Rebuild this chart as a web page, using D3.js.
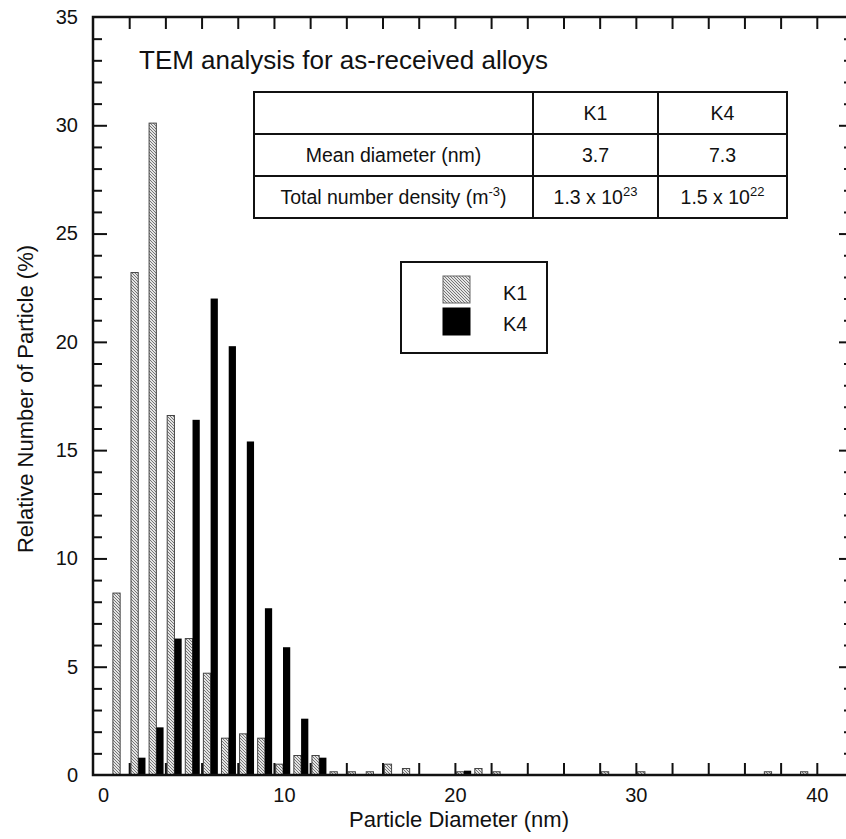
<!DOCTYPE html>
<html>
<head>
<meta charset="utf-8">
<script src="https://cdn.jsdelivr.net/npm/d3@7"></script>
<style>
  body { margin: 0; background: #fff; }
  text { font-family: "Liberation Sans", Arial, sans-serif; fill: #111; }
</style>
</head>
<body>
<svg id="chart"></svg>
<script>
// Chart size
const width = 846;
const height = 839;

// Histogram bins (particle diameter, nm)
const diameters = [1, 2, 3, 4, 5, 6, 7, 8, 9, 10, 11, 12, 13, 14, 15, 16, 17, 18, 19, 20,
    21, 22, 23, 24, 25, 26, 27, 28, 29, 30, 31, 32, 33, 34, 35, 36, 37, 38, 39];

// Relative number of particles (%) for each alloy
const k1Values = [8.4, 23.2, 30.1, 16.6, 6.3, 4.7, 1.7, 1.9, 1.7, 0.5, 0.9, 0.9, 0.15, 0.15, 0.15, 0.5, 0.3, 0, 0, 0.15,
    0.3, 0.15, 0, 0, 0, 0, 0, 0.15, 0, 0.15, 0, 0, 0, 0, 0, 0, 0.15, 0, 0.15];
const k4Values = [0, 0.8, 2.2, 6.3, 16.4, 22.0, 19.8, 15.4, 7.7, 5.9, 2.6, 0.8, 0, 0, 0, 0, 0, 0, 0, 0.2,
    0, 0, 0, 0, 0, 0, 0, 0, 0, 0, 0, 0, 0, 0, 0, 0, 0, 0, 0];

// Axis ticks
const xLabelTicks = [0, 10, 20, 30, 40];
const xMinorTicks = [2, 4, 6, 8, 10, 12, 14, 16, 18, 20, 22, 24, 26, 28, 30, 32, 34, 36, 38, 40];
const yLabelTicks = [0, 5, 10, 15, 20, 25, 30, 35];

// Inset table
const tableHeader = ["", "K1", "K4"];
const meanRow = ["Mean diameter (nm)", "3.7", "7.3"];
const densityMantissa = ["1.3", "1.5"];
const densityExponent = ["23", "22"];

const seriesNames = ["K1", "K4"];
const title = "TEM analysis for as-received alloys";

// Plot frame
const plotLeft = 93, plotRight = 853, plotTop = 17, plotBottom = 775;

const svg = d3.select("#chart")
    .attr("width", width)
    .attr("height", height);

svg.append("rect").attr("width", width).attr("height", height).attr("fill", "#fff");

// Hatch pattern for K1
const defs = svg.append("defs");
const pat = defs.append("pattern")
    .attr("id", "hatch")
    .attr("patternUnits", "userSpaceOnUse")
    .attr("width", 3)
    .attr("height", 3);
pat.append("rect").attr("width", 3).attr("height", 3).attr("fill", "#e4e4e4");
pat.append("path")
    .attr("d", "M-1,-1 L4,4 M-1,2 L1,4 M2,-1 L4,1")
    .attr("stroke", "#6a6a6a")
    .attr("stroke-width", 0.9);

// Scales
const x = d3.scaleLinear().domain([0, 42]).range([plotLeft, plotRight]);
const y = d3.scaleLinear().domain([0, 35]).range([plotBottom, plotTop]);

const data = diameters.map((d, i) => ({ d: d, k1: k1Values[i], k4: k4Values[i] }));

// K1 bars (left half of each bin)
svg.append("g").selectAll("rect")
    .data(data.filter(d => d.k1 > 0))
    .enter().append("rect")
    .attr("x", d => x(d.d + 0.1))
    .attr("width", d => x(d.d + 0.5) - x(d.d + 0.1))
    .attr("y", d => y(d.k1))
    .attr("height", d => y(0) - y(d.k1))
    .attr("fill", "url(#hatch)")
    .attr("stroke", "#444")
    .attr("stroke-width", 1);

// K4 bars (right half of each bin)
svg.append("g").selectAll("rect")
    .data(data.filter(d => d.k4 > 0))
    .enter().append("rect")
    .attr("x", d => x(d.d + 0.5))
    .attr("width", d => x(d.d + 0.9) - x(d.d + 0.5))
    .attr("y", d => y(d.k4))
    .attr("height", d => y(0) - y(d.k4))
    .attr("fill", "#000");

// Axes: inward ticks on all four sides
function styleAxis(g) {
    g.select(".domain").remove();
    g.selectAll(".tick line").attr("stroke", "#111").attr("stroke-width", 2);
}

svg.append("g")
    .attr("transform", `translate(0,${plotBottom})`)
    .call(d3.axisBottom(x).tickValues(xMinorTicks).tickSize(-12).tickFormat(""))
    .call(styleAxis);
svg.append("g")
    .attr("transform", `translate(0,${plotTop})`)
    .call(d3.axisTop(x).tickValues(xMinorTicks).tickSize(-12).tickFormat(""))
    .call(styleAxis);

const yMinor = d3.range(1, 35).filter(v => v % 5 !== 0);
const yMajor = [5, 10, 15, 20, 25, 30];
svg.append("g")
    .attr("transform", `translate(${plotLeft},0)`)
    .call(d3.axisLeft(y).tickValues(yMinor).tickSize(-9).tickFormat(""))
    .call(styleAxis);
svg.append("g")
    .attr("transform", `translate(${plotLeft},0)`)
    .call(d3.axisLeft(y).tickValues(yMajor).tickSize(-14).tickFormat(""))
    .call(styleAxis);
svg.append("g")
    .attr("transform", `translate(${plotRight},0)`)
    .call(d3.axisRight(y).tickValues(yMinor).tickSize(-9).tickFormat(""))
    .call(styleAxis);
svg.append("g")
    .attr("transform", `translate(${plotRight},0)`)
    .call(d3.axisRight(y).tickValues(yMajor).tickSize(-14).tickFormat(""))
    .call(styleAxis);

// Tick labels
const xLab = svg.append("g")
    .attr("transform", `translate(0,${plotBottom})`)
    .call(d3.axisBottom(x).tickValues(xLabelTicks).tickSize(0).tickPadding(13).tickFormat(d3.format("d")));
xLab.select(".domain").remove();
xLab.selectAll("text")
    .style("font-size", "20px")
    .attr("fill", "#111")
    .attr("dx", d => d <= 10 ? 10 : 0);

const yLab = svg.append("g")
    .attr("transform", `translate(${plotLeft},0)`)
    .call(d3.axisLeft(y).tickValues(yLabelTicks).tickSize(0).tickPadding(15).tickFormat(d3.format("d")));
yLab.select(".domain").remove();
yLab.selectAll("text").style("font-size", "20px").attr("fill", "#111");

// Frame
svg.append("rect")
    .attr("x", plotLeft).attr("y", plotTop)
    .attr("width", plotRight - plotLeft).attr("height", plotBottom - plotTop)
    .attr("fill", "none")
    .attr("stroke", "#111")
    .attr("stroke-width", 2.5);

// Axis titles
svg.append("text")
    .attr("x", 459)
    .attr("y", 827)
    .attr("text-anchor", "middle")
    .style("font-size", "22px")
    .text("Particle Diameter (nm)");

svg.append("text")
    .attr("transform", "translate(33,399) rotate(-90)")
    .attr("text-anchor", "middle")
    .style("font-size", "22px")
    .text("Relative Number of Particle (%)");

// Title
svg.append("text")
    .attr("x", 139)
    .attr("y", 69)
    .style("font-size", "26px")
    .text(title);

// Inset table
const colX = [254, 533, 658, 787];
const rowY = [92, 134, 176, 218];
const table = svg.append("g");
table.append("rect")
    .attr("x", colX[0]).attr("y", rowY[0])
    .attr("width", colX[3] - colX[0]).attr("height", rowY[3] - rowY[0])
    .attr("fill", "#fff").attr("stroke", "#111").attr("stroke-width", 2);
[1, 2].forEach(i => {
    table.append("line")
        .attr("x1", colX[0]).attr("x2", colX[3])
        .attr("y1", rowY[i]).attr("y2", rowY[i])
        .attr("stroke", "#111").attr("stroke-width", 2);
    table.append("line")
        .attr("x1", colX[i]).attr("x2", colX[i])
        .attr("y1", rowY[0]).attr("y2", rowY[3])
        .attr("stroke", "#111").attr("stroke-width", 2);
});

function cellText(col, row) {
    return table.append("text")
        .attr("x", (colX[col] + colX[col + 1]) / 2)
        .attr("y", (rowY[row] + rowY[row + 1]) / 2 + 7)
        .attr("text-anchor", "middle")
        .style("font-size", "19.5px");
}
tableHeader.forEach((t, i) => cellText(i, 0).text(t));
meanRow.forEach((t, i) => cellText(i, 1).text(t));

const dens = cellText(0, 2).text("Total number density (m");
dens.append("tspan").attr("dy", -8).style("font-size", "13px").text("-3");
dens.append("tspan").attr("dy", 8).text(")");
densityMantissa.forEach((m, i) => {
    const t = cellText(i + 1, 2).text(m + " x 10");
    t.append("tspan").attr("dy", -8).style("font-size", "13px").text(densityExponent[i]);
});

// Legend
const legend = svg.append("g");
legend.append("rect")
    .attr("x", 401).attr("y", 262)
    .attr("width", 146).attr("height", 91)
    .attr("fill", "#fff").attr("stroke", "#111").attr("stroke-width", 2);
seriesNames.forEach((name, i) => {
    legend.append("rect")
        .attr("x", 443).attr("y", 276 + i * 32)
        .attr("width", 27).attr("height", 27)
        .attr("fill", i === 0 ? "url(#hatch)" : "#000")
        .attr("stroke", i === 0 ? "#666" : "#000")
        .attr("stroke-width", 1);
    legend.append("text")
        .attr("x", 503).attr("y", 300 + i * 31)
        .style("font-size", "20px")
        .text(name);
});
</script>
</body>
</html>
